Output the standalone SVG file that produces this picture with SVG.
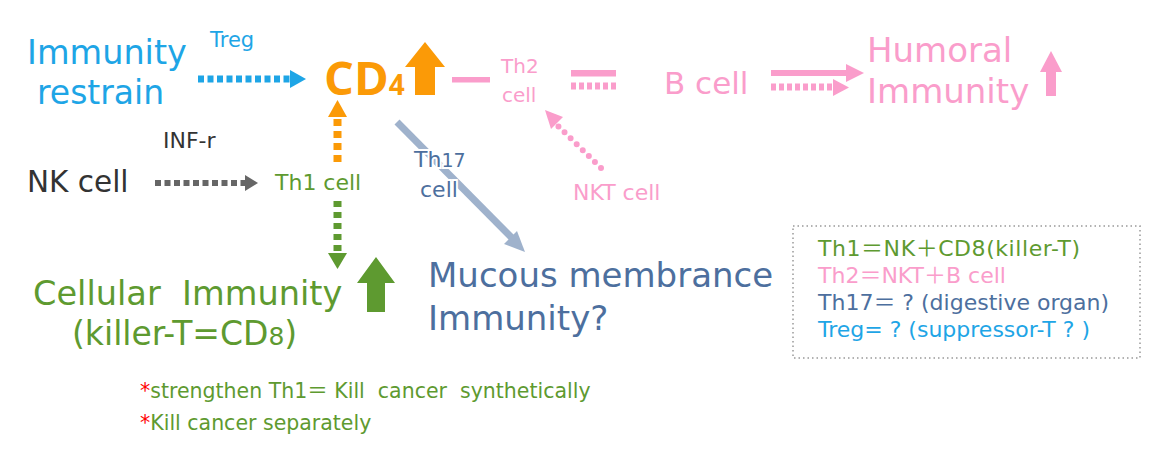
<svg xmlns="http://www.w3.org/2000/svg" width="1170" height="462" viewBox="0 0 1170 462">
<style>
text{font-family:"DejaVu Sans","Noto Sans CJK JP",sans-serif;}
text.os{font-family:"Open Sans",sans-serif;font-weight:bold}
.pre{white-space:pre}
.cy{fill:#1ea5e6}.or{fill:#fb9a07}.pk{fill:#fa9dcb}.gr{fill:#5e9a30}.bl{fill:#4d6f9e}.dk{fill:#333}.rd{fill:#ff0000}
.halo{stroke:#fff;stroke-width:4;paint-order:stroke}
</style>
<rect width="1170" height="462" fill="#fff"/>
<g id="connectors">
  <line x1="198" y1="79" x2="290" y2="79" stroke="#1ea5e6" stroke-width="7" stroke-dasharray="6 3.5"/>
  <path d="M290,70 L306,79 L290,88z" fill="#1ea5e6"/>
  <line x1="155" y1="183" x2="245" y2="183" stroke="#666" stroke-width="6" stroke-dasharray="6 3.5"/>
  <path d="M245,175 L258,183 L245,191z" fill="#666"/>
  <line x1="337.5" y1="162" x2="337.5" y2="116" stroke="#fb9a07" stroke-width="8" stroke-dasharray="7 5"/>
  <path d="M328,117 L337.5,100 L347,117z" fill="#fb9a07"/>
  <line x1="337.5" y1="201" x2="337.5" y2="254" stroke="#5e9a30" stroke-width="8" stroke-dasharray="6 5"/>
  <path d="M328,253 L337.5,269 L347,253z" fill="#5e9a30"/>
  <rect x="452" y="77" width="38" height="5.5" fill="#fa9dcb"/>
  <rect x="571" y="70" width="45" height="6.5" fill="#fa9dcb"/>
  <line x1="571" y1="86" x2="616" y2="86" stroke="#fa9dcb" stroke-width="7" stroke-dasharray="5 3"/>
  <line x1="771" y1="73" x2="848" y2="73" stroke="#fa9dcb" stroke-width="6"/>
  <path d="M846,64 L864,73 L846,82z" fill="#fa9dcb"/>
  <line x1="771" y1="87" x2="835" y2="87" stroke="#fa9dcb" stroke-width="7" stroke-dasharray="5 3"/>
  <path d="M833,79 L849,87.5 L833,96z" fill="#fa9dcb"/>
  <line x1="601" y1="168" x2="556" y2="124" stroke="#fa9dcb" stroke-width="6" stroke-linecap="round" stroke-dasharray="0 8.5"/>
  <path d="M545,110 L563,117 L551,129z" fill="#fa9dcb"/>
  <line x1="397" y1="122" x2="512" y2="238" stroke="#9fb2cc" stroke-width="7"/>
  <path d="M504,244 L525,252 L517,231z" fill="#9fb2cc"/>
</g>
<g id="immunity-restrain">
  <text x="27" y="64" font-size="33.5" class="cy">Immunity</text>
  <text x="37" y="104" font-size="33" class="cy">restrain</text>
</g>
<g id="treg-label"><text x="210" y="47" font-size="21" class="cy">Treg</text></g>
<g id="cd4">
  <text x="324" y="95" font-size="47" class="or os">CD<tspan font-size="28">4</tspan></text>
  <path d="M405,67 L425,42 L445,67 L435,67 L435,95 L415,95 L415,67z" fill="#fb9a07"/>
</g>
<g id="th2">
  <text x="501" y="73" font-size="20" class="pk">Th2</text>
  <text x="502" y="102" font-size="20" class="pk">cell</text>
</g>
<g id="bcell"><text x="664" y="94" font-size="31" class="pk">B cell</text></g>
<g id="humoral">
  <text x="867" y="62" font-size="34" class="pk">Humoral</text>
  <text x="867" y="103" font-size="34" class="pk">Immunity</text>
  <path d="M1040,72 L1051,51 L1062,72 L1056,72 L1056,96 L1046,96 L1046,72z" fill="#fa9dcb"/>
</g>
<g id="inf-r"><text x="163" y="148" font-size="22" class="dk">INF-r</text></g>
<g id="nkcell"><text x="27" y="192" font-size="29.5" class="dk">NK cell</text></g>
<g id="th1"><text x="275" y="190" font-size="22" class="gr">Th1 cell</text></g>
<g id="th17">
  <text x="414" y="167" font-size="22" class="bl halo">Th<tspan font-size="19">17</tspan></text>
  <text x="420" y="197" font-size="22" class="bl halo">cell</text>
</g>
<g id="nkt"><text x="573" y="200" font-size="22" class="pk">NKT cell</text></g>
<g id="cellular">
  <text x="33" y="305" font-size="33.6" class="gr pre">Cellular  Immunity</text>
  <text x="72" y="345" font-size="33" class="gr">(killer-T=CD<tspan font-size="25">8</tspan>)</text>
  <path d="M357,283 L376,257 L395,283 L385,283 L385,312 L367,312 L367,283z" fill="#5e9a30"/>
</g>
<g id="mucous">
  <text x="428" y="287" font-size="34" class="bl">Mucous membrance</text>
  <text x="428" y="330" font-size="34" class="bl">Immunity?</text>
</g>
<g id="legend">
  <rect x="793" y="226" width="347" height="132" fill="none" stroke="#999" stroke-width="1.5" stroke-dasharray="1.5 3"/>
  <text x="818" y="256" font-size="22" class="gr" textLength="262" lengthAdjust="spacing">Th1＝NK＋CD8(killer-T)</text>
  <text x="818" y="283" font-size="22" class="pk">Th2＝NKT＋B cell</text>
  <text x="818" y="310" font-size="22" class="bl pre">Th17＝ ? (digestive organ)</text>
  <text x="818" y="337" font-size="22" class="cy pre">Treg= ? (suppressor-T ? )</text>
</g>
<g id="notes">
  <text x="140" y="398" font-size="20.5" class="gr pre"><tspan class="rd">*</tspan>strengthen Th1＝ Kill  cancer  synthetically</text>
  <text x="140" y="430" font-size="20.5" class="gr"><tspan class="rd">*</tspan>Kill cancer separately</text>
</g>
</svg>
